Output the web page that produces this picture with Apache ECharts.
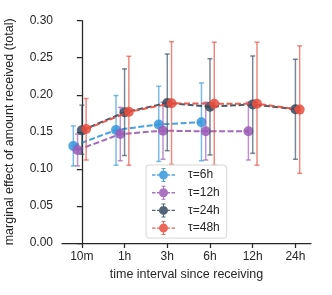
<!DOCTYPE html>
<html><head><meta charset="utf-8">
<script src="https://cdn.jsdelivr.net/npm/echarts@6/dist/echarts.min.js"></script>
<style>html,body{margin:0;padding:0;background:#fff}#c{width:332px;height:295px}</style>
</head><body><div id="c"></div>
<script>
const categories = ['10m','1h','3h','6h','12h','24h'];
const seriesNames = ['τ=6h','τ=12h','τ=24h','τ=48h'];
const tau6Mean  = [0.131, 0.1525, 0.160, 0.163];
const tau6Lo    = [0.104, 0.105, 0.110, 0.111];
const tau6Hi    = [0.158, 0.199, 0.2115, 0.216];
const tau12Mean = [0.1255, 0.147, 0.1516, 0.1507, 0.1507];
const tau12Lo   = [0.104, 0.111, 0.113, 0.112, 0.112];
const tau12Hi   = [0.147, 0.183, 0.190, 0.190, 0.190];
const tau24Mean = [0.152, 0.1764, 0.189, 0.184, 0.187, 0.1805];
const tau24Lo   = [0.1197, 0.118, 0.1246, 0.1188, 0.121, 0.113];
const tau24Hi   = [0.186, 0.235, 0.255, 0.2487, 0.2524, 0.248];
const tau48Mean = [0.1538, 0.177, 0.1885, 0.188, 0.188, 0.180];
const tau48Lo   = [0.112, 0.105, 0.106, 0.105, 0.105, 0.094];
const tau48Hi   = [0.195, 0.252, 0.2717, 0.271, 0.271, 0.266];

const colors = ['#3498db','#9b59b6','#34495e','#e74c3c'];
const offsets = [-0.2, -0.1, 0, 0.1];
const all = [[tau6Mean,tau6Lo,tau6Hi],[tau12Mean,tau12Lo,tau12Hi],[tau24Mean,tau24Lo,tau24Hi],[tau48Mean,tau48Lo,tau48Hi]];
const font = '"Liberation Sans", Arial, sans-serif';
const textColor = '#262626';
const legendIcon = 'path://M0,6.3h3.5v1.4h-3.5z M5,6.3h2.5v1.4h-2.5z M15.5,6.3h2.5v1.4h-2.5z M19.5,6.3h3.5v1.4h-3.5z ' +
  'M7,7a4.5,4.5 0 1,1 9,0a4.5,4.5 0 1,1 -9,0z M11,0.5h1v2.5h-1z M11,11h1v2.5h-1z M9.5,0h4v1h-4z M9.5,13h4v1h-4z';

function hexA(h,a){const r=parseInt(h.slice(1,3),16),g=parseInt(h.slice(3,5),16),b=parseInt(h.slice(5,7),16);return `rgba(${r},${g},${b},${a})`;}

const series = [];
all.forEach((s,k)=>{
  const [m,lo,hi]=s;
  series.push({
    type:'custom', name: seriesNames[k] + ' CI', z: 2+k*2,
    renderItem:(params,api)=>{
      const x=api.value(0), l=api.value(1), h=api.value(2);
      const p1=api.coord([x,l]), p2=api.coord([x,h]);
      const cw=2.5;
      const st={stroke:hexA(colors[k],0.65), lineWidth:1.5};
      return {type:'group',children:[
        {type:'line',shape:{x1:p1[0],y1:p1[1],x2:p2[0],y2:p2[1]},style:st},
        {type:'line',shape:{x1:p1[0]-cw,y1:p1[1],x2:p1[0]+cw,y2:p1[1]},style:st},
        {type:'line',shape:{x1:p2[0]-cw,y1:p2[1],x2:p2[0]+cw,y2:p2[1]},style:st}
      ]};
    },
    encode:{x:0,y:[1,2]},
    data: m.map((v,i)=>[i+offsets[k], lo[i], hi[i]]),
    silent:true
  });
  series.push({
    type:'line', name: seriesNames[k], z: 3+k*2,
    data: m.map((v,i)=>[i+offsets[k], v]),
    symbol:'circle', symbolSize:10,
    itemStyle:{color:colors[k], opacity:0.85},
    lineStyle:{color:colors[k], width:2, type:[6,2.5], opacity:0.9},
    animation:false
  });
});

const chart = echarts.init(document.getElementById('c'), null, {renderer:'canvas'});
chart.setOption({
  animation:false,
  backgroundColor:'#fff',
  color: colors,
  grid:{left:62, right:21, top:20.7, bottom:52, containLabel:false, outerBoundsMode:'none'},
  xAxis:{
    type:'value', min:-0.465, max:5.365,
    name:'time interval since receiving', nameLocation:'middle', nameGap:25,
    nameTextStyle:{fontFamily:font, fontSize:12.5, color:textColor},
    axisLine:{show:true, lineStyle:{color:textColor, width:1.25}},
    axisTick:{show:true, length:5, lineStyle:{color:textColor, width:1.25}, customValues:[0,1,2,3,4,5]},
    axisLabel:{fontFamily:font, fontSize:12, color:textColor, margin:8, customValues:[0,1,2,3,4,5], formatter:(v)=>categories[Math.round(v)]},
    splitLine:{show:false}
  },
  yAxis:{
    type:'value', min:0, max:0.30, interval:0.05,
    name:'marginal effect of amount received (total)', nameLocation:'middle', nameGap:46,
    nameTextStyle:{fontFamily:font, fontSize:12.5, color:textColor},
    axisLine:{show:true, lineStyle:{color:textColor, width:1.25}},
    axisTick:{show:true, length:5, lineStyle:{color:textColor, width:1.25}},
    axisLabel:{fontFamily:font, fontSize:12, color:textColor, margin:9, formatter:(v)=>v.toFixed(2)},
    splitLine:{show:false}
  },
  legend:{
    data: seriesNames, orient:'vertical', left:146, top:165,
    icon: legendIcon,
    itemWidth:23, itemHeight:14, itemGap:3.7,
    itemStyle:{opacity:0.85},
    padding:[3,7,3,6],
    backgroundColor:'rgba(255,255,255,0.85)', borderColor:'#d6d6d6', borderWidth:1, borderRadius:3,
    textStyle:{fontFamily:font, fontSize:12, color:textColor, padding:[0,0,0,8]},
    z: 20
  },
  series
});
</script></body></html>
